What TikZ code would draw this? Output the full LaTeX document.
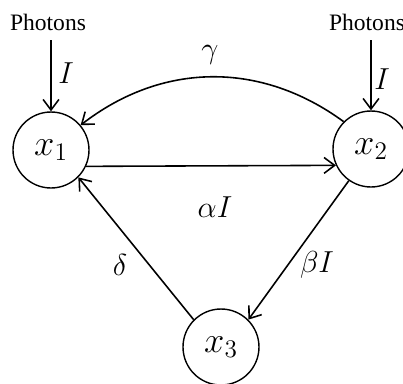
\documentclass[tikz,border=0pt]{standalone}
\usepackage{fontspec}
\setmainfont{Liberation Serif}
\usetikzlibrary{arrows.meta}
\tikzset{
  state/.style={draw,circle,line width=0.8pt,minimum size=1.52cm,inner sep=0pt,font=\fontsize{21}{23}\selectfont},
  rate/.style={font=\fontsize{16}{18}\selectfont},
  flow/.style={-{Straight Barb[length=6pt,width=9pt]},line width=0.9pt}
}
\begin{document}
\begin{tikzpicture}[x=0.02cm,y=-0.02cm]
\useasboundingbox (0,0) rectangle (403,383);

\node[state] (x1) at (51,150) {$x_1$};
\node[state] (x2) at (371,149) {$x_2$};
\node[state] (x3) at (221,347) {$x_3$};

\node[font=\fontsize{13.4}{15}\selectfont] (ph1) at (48,22) {Photons};
\node[font=\fontsize{13.4}{15}\selectfont] (ph2) at (367,22) {Photons};
\coordinate (in1) at (51,40);
\coordinate (in2) at (371,40);
\draw[flow] (in1) -- (x1);
\draw[flow] (in2) -- (x2);
\node[rate] (i1) at (66,73) {$I$};
\node[rate] (i2) at (382,79) {$I$};

\draw[flow] (x2.135) to[bend right=37] (x1.40);
\node[rate] (g) at (210,55) {$\gamma$};

\draw[flow] (x1.-25) -- (x2.205);
\node[rate] (a) at (215,207) {$\alpha I$};

\draw[flow] (x2.-125) -- (x3.45);
\node[rate] (b) at (317,265) {$\beta I$};

\draw[flow] (x3.135) -- (x1.-45);
\node[rate] (d) at (120,265) {$\delta$};
\end{tikzpicture}
\end{document}
